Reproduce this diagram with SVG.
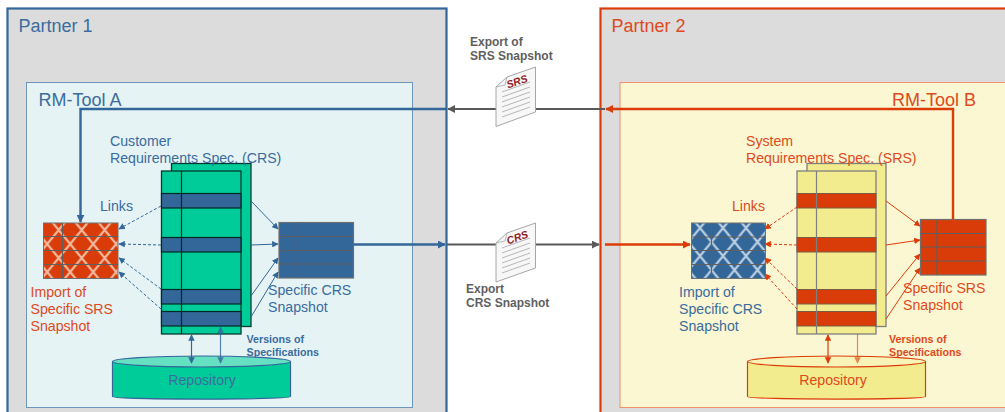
<svg xmlns="http://www.w3.org/2000/svg" width="1005" height="412" viewBox="0 0 1005 412">
<style>
text{font-family:"Liberation Sans",Arial,sans-serif}
.b{fill:#3a6c9e}.r{fill:#de4a1c}
.t{font-size:14.15px}.h{font-size:18px}
.g{font-size:12px;font-weight:bold;fill:#5f5f5f}
.v{font-size:10.7px;font-weight:bold}
.grid{fill:none;stroke:#5f5f5f;stroke-width:1.2}
.tg{fill:#00cc99;stroke:#003c30;stroke-width:1.3}
.ty{fill:#f2ec8e;stroke:#7f7f7f;stroke-width:1.3}
.doc{fill:#f7f7f7;stroke:#a6a6a6;stroke-width:1}
.dl{stroke:#a6a6a6;stroke-width:.8;fill:none}
.bl{stroke:#336699;fill:none}.rl{stroke:#dc3c0a;fill:none}
.grey{stroke:#595959;stroke-width:2.2;fill:none}
</style>
<defs>
<marker id="ab" viewBox="0 0 10 10" refX="9" refY="5" markerWidth="8" markerHeight="8" markerUnits="userSpaceOnUse" orient="auto-start-reverse"><path d="M0 0L10 5L0 10z" fill="#336699"/></marker>
<marker id="ar" viewBox="0 0 10 10" refX="9" refY="5" markerWidth="8" markerHeight="8" markerUnits="userSpaceOnUse" orient="auto-start-reverse"><path d="M0 0L10 5L0 10z" fill="#dc3c0a"/></marker>
<marker id="sb" viewBox="0 0 10 10" refX="9" refY="5" markerWidth="6.500" markerHeight="6.500" markerUnits="userSpaceOnUse" orient="auto-start-reverse"><path d="M0 0L10 5L0 10z" fill="#336699"/></marker>
<marker id="sr" viewBox="0 0 10 10" refX="9" refY="5" markerWidth="6.500" markerHeight="6.500" markerUnits="userSpaceOnUse" orient="auto-start-reverse"><path d="M0 0L10 5L0 10z" fill="#dc3c0a"/></marker>
<marker id="ag" viewBox="0 0 10 10" refX="9" refY="5" markerWidth="8" markerHeight="8" markerUnits="userSpaceOnUse" orient="auto"><path d="M0 0L10 5L0 10z" fill="#595959"/></marker>
<pattern id="hr" width="23" height="28" patternUnits="userSpaceOnUse" x="70.200" y="216"><rect width="23" height="28" fill="#d93c08"/><path d="M0 0L23 28M23 0L0 28" stroke="#f2b89f" stroke-width="2.200"/></pattern>
<pattern id="hb" width="23" height="28" patternUnits="userSpaceOnUse" x="688.500" y="214"><rect width="23" height="28" fill="#336699"/><path d="M0 0L23 28M23 0L0 28" stroke="#bcd0e2" stroke-width="2.200"/></pattern>
</defs>

<g id="partner1"><rect x="7.500" y="8.500" width="439" height="411" fill="#dcdcdc" stroke="#336699" stroke-width="2.200"/><text class="h b" x="18.500" y="32">Partner 1</text></g>
<g id="partner2"><rect x="600.500" y="8.500" width="420" height="411" fill="#dcdcdc" stroke="#dc3c0a" stroke-width="2.200"/><text class="h r" x="611.500" y="32">Partner 2</text></g>
<g id="toolA"><rect x="26.500" y="82.500" width="386" height="325" fill="#e6f3f5" stroke="#6f95bb" stroke-width="1"/><text class="h b" x="38.500" y="106">RM-Tool A</text></g>
<g id="toolB"><rect x="620" y="82.500" width="400" height="325" fill="#fbf7d3" stroke="#f0906c" stroke-width="1"/><text class="h r" x="892" y="106">RM-Tool B</text></g>

<g id="crs-table">
<rect class="tg" x="171.500" y="163.500" width="79.500" height="163"/>
<rect class="tg" x="161.500" y="171" width="79.500" height="163"/>
<g fill="#336699" stroke="#002a22" stroke-width="1.200"><rect x="161.500" y="193.500" width="79.500" height="14.500"/><rect x="161.500" y="237.500" width="79.500" height="14.500"/><rect x="161.500" y="289.500" width="79.500" height="14.500"/><rect x="161.500" y="311.500" width="79.500" height="14.500"/></g>
<path d="M181.500 171V334" stroke="#002a22" stroke-width="1.200"/>
<text class="t b" x="110" y="146">Customer</text><text class="t b" x="110" y="163">Requirements Spec. (CRS)</text>
<text class="v b" x="246.500" y="343">Versions of</text><text class="v b" x="246.500" y="356">Specifications</text>
</g>
<g id="srs-table">
<rect class="ty" x="807" y="163.500" width="79" height="163"/>
<rect class="ty" x="797" y="171" width="79" height="163"/>
<g fill="#d93c08" stroke="#7a5a40" stroke-width="1"><rect x="797" y="193.500" width="79" height="14.500"/><rect x="797" y="237.500" width="79" height="14.500"/><rect x="797" y="289.500" width="79" height="14.500"/><rect x="797" y="311.500" width="79" height="14.500"/></g>
<path d="M816.500 171V334" stroke="#7f7f7f" stroke-width="1.200"/>
<text class="t r" x="746" y="146">System</text><text class="t r" x="746" y="163">Requirements Spec. (SRS)</text>
<text class="v r" x="889" y="343">Versions of</text><text class="v r" x="889" y="356">Specifications</text>
</g>

<g id="crs-snapshot"><rect x="279" y="222.500" width="74.500" height="55.500" fill="#336699" stroke="#6f6f6f" stroke-width="1.200"/><path class="grid" d="M279 236.500H353.500M279 250.500H353.500M279 264H353.500M297.500 222.500V278"/><text class="t b" x="268" y="295">Specific CRS</text><text class="t b" x="268" y="312">Snapshot</text></g>
<g id="srs-snapshot"><rect x="920.500" y="219.500" width="65.500" height="55.500" fill="#d93c08" stroke="#6f6f6f" stroke-width="1.200"/><path class="grid" d="M920.500 233.500H986M920.500 247H986M920.500 261H986M937 219.500V275"/><text class="t r" x="903" y="293">Specific SRS</text><text class="t r" x="903" y="310">Snapshot</text></g>
<g id="import-srs"><rect x="43.500" y="223" width="74.500" height="55.500" fill="url(#hr)" stroke="#6f6f6f" stroke-width="1"/><path class="grid" d="M43.500 236.500H118M43.500 250.500H118M43.500 264.500H118M62.500 223V278.500"/><text class="t r" x="30.500" y="297">Import of</text><text class="t r" x="30.500" y="314">Specific SRS</text><text class="t r" x="30.500" y="331">Snapshot</text></g>
<g id="import-crs"><rect x="691.500" y="223" width="74" height="55.500" fill="url(#hb)" stroke="#6f6f6f" stroke-width="1"/><path class="grid" d="M691.500 237H765.500M691.500 250.500H765.500M691.500 264.500H765.500M711.500 223V278.500"/><text class="t b" x="679" y="297">Import of</text><text class="t b" x="679" y="314">Specific CRS</text><text class="t b" x="679" y="331">Snapshot</text></g>

<g id="repo-a"><path d="M112.500 361.500V396.500C112.500 400 290.500 400 290.500 396.500V361.500" fill="#00cc99" stroke="#336699" stroke-width="1.200"/><ellipse cx="201.500" cy="361.500" rx="89" ry="5.500" fill="#66e0c2" stroke="#336699" stroke-width="1.200"/><text class="t b" x="202" y="385" text-anchor="middle">Repository</text></g>
<g id="repo-b"><path d="M747.500 361.500V396.500C747.500 400 925.500 400 925.500 396.500V361.500" fill="#f2ec8e" stroke="#dc3c0a" stroke-width="1.200"/><ellipse cx="836.500" cy="361.500" rx="89" ry="5.500" fill="#f8f4b8" stroke="#dc3c0a" stroke-width="1.200"/><text class="t r" x="833" y="385" text-anchor="middle">Repository</text></g>

<g id="connectors">
<path class="bl" stroke-width="2.400" d="M447 109H80.500V222" marker-end="url(#ab)"/>
<path class="rl" stroke-width="2.400" d="M953 219.500V109H606" marker-end="url(#ar)"/>
<path class="bl" stroke-width="2.400" d="M353.500 244.500H445" marker-end="url(#ab)"/>
<path class="rl" stroke-width="2.400" d="M605 244.500H690" marker-end="url(#ar)"/>
<path class="grey" d="M605 109H448" marker-end="url(#ag)"/>
<path class="grey" d="M447 244.500H599" marker-end="url(#ag)"/>
<g stroke-width="1" stroke-dasharray="3 2">
<path class="bl" d="M161 206L119 229" marker-end="url(#sb)"/><path class="bl" d="M161 245L119 244" marker-end="url(#sb)"/><path class="bl" d="M161 289L119 258" marker-end="url(#sb)"/><path class="bl" d="M161 309L119 272" marker-end="url(#sb)"/>
<path class="rl" d="M797 207L765 229" marker-end="url(#sr)"/><path class="rl" d="M797 245L765 244" marker-end="url(#sr)"/><path class="rl" d="M797 289L765 258" marker-end="url(#sr)"/><path class="rl" d="M797 309L765 274" marker-end="url(#sr)"/>
</g>
<g stroke-width="1">
<path class="bl" d="M251 201L278 229" marker-end="url(#sb)"/><path class="bl" d="M251 245L278 244" marker-end="url(#sb)"/><path class="bl" d="M251 296L278 258" marker-end="url(#sb)"/><path class="bl" d="M251 317L278 272" marker-end="url(#sb)"/>
<path class="rl" d="M886 201L920 226" marker-end="url(#sr)"/><path class="rl" d="M886 245L920 240" marker-end="url(#sr)"/><path class="rl" d="M886 296L920 254" marker-end="url(#sr)"/><path class="rl" d="M886 319L920 268" marker-end="url(#sr)"/>
</g>
<g stroke-width="1.200">
<path class="bl" d="M191.500 335V363" marker-start="url(#sb)" marker-end="url(#sb)"/><path class="bl" opacity=".8" d="M220.500 327V363" marker-start="url(#sb)" marker-end="url(#sb)"/>
<path class="rl" d="M828 335V363" marker-start="url(#sr)" marker-end="url(#sr)"/><path class="rl" opacity=".6" d="M857.500 334V363" marker-end="url(#sr)"/>
</g>
</g>

<g id="doc-srs"><path class="doc" d="M496 87L507 77L535.500 67V112L496 126.500Z"/><path d="M496 87L505 85L507 77" class="dl"/>
<path class="dl" d="M502 92L530 82M502 97L530 87M502 102L530 92M502 107L530 97M502 112L530 102M502 117L530 107"/>
<text x="0" y="0" transform="translate(508 88.500) rotate(-19)" font-size="10.500" font-weight="bold" font-style="italic" fill="#8f1d24">SRS</text></g>
<g id="doc-crs"><path class="doc" d="M496 243L507 233L535.500 223V268L496 282Z"/><path d="M496 243L505 241L507 233" class="dl"/>
<path class="dl" d="M502 248L530 238M502 253L530 243M502 258L530 248M502 263L530 253M502 268L530 258M502 273L530 263"/>
<text x="0" y="0" transform="translate(508 244.500) rotate(-19)" font-size="10.500" font-weight="bold" font-style="italic" fill="#8f1d24">CRS</text></g>

<g id="labels"><text class="g" x="470" y="46">Export of</text><text class="g" x="470" y="60">SRS Snapshot</text><text class="g" x="466" y="293">Export</text><text class="g" x="466" y="307">CRS Snapshot</text><text class="t b" x="100" y="211">Links</text><text class="t r" x="732" y="211">Links</text></g>
</svg>
